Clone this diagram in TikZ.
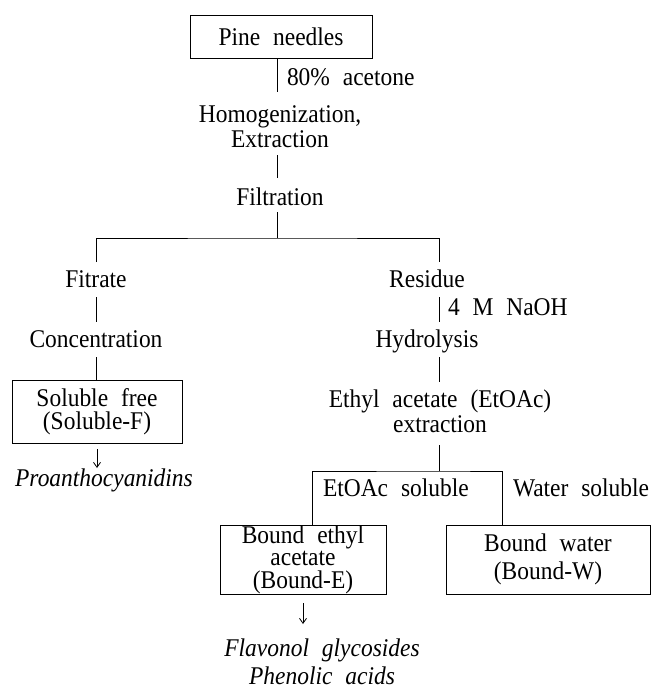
\documentclass[tikz,border=0pt]{standalone}
\usepackage{fontspec}
\setmainfont{Liberation Serif}[WordSpace=2.2,FakeStretch=0.92]
\usetikzlibrary{arrows.meta}
\begin{document}
\begin{tikzpicture}[x=1pt,y=-1pt,
  every node/.style={font=\fontsize{25.5}{24}\selectfont, inner sep=0pt, outer sep=0pt},
  txt/.style={text height=17pt,text depth=5pt,anchor=base},
  itx/.style={txt,font=\fontsize{25.5}{24}\selectfont\itshape},
  box/.style={draw,line width=0.8pt,align=center},
  ln/.style={line width=0.8pt},
  dn/.style={line width=0.8pt,-{Straight Barb[length=5pt,width=7pt]}}
]
\useasboundingbox (0,0) rectangle (651,689);
% top
\node[box,minimum width=182pt,minimum height=43pt] (pine) at (281,36.5) {Pine needles};
\coordinate (j1) at (277,238);
\coordinate (jl) at (96,238);
\coordinate (jr) at (439,238);
\node[txt,anchor=base west] (acet) at (287,85) {80\% acetone};
\node[txt] (homA) at (280,122) {Homogenization,};
\node[txt] (homB) at (280,147.5) {Extraction};
\node[txt] (filt) at (280,205) {Filtration};
% left branch
\node[txt] (fit) at (96,287) {Fitrate};
\node[txt] (conc) at (96,347) {Concentration};
\node[box,minimum width=170pt,minimum height=63pt,font=\fontsize{25.5}{23.5}\selectfont] (solf) at (97,411.5) {Soluble free\\(Soluble-F)};
\node[itx] (pro) at (104,486) {Proanthocyanidins};
% right branch
\node[txt] (res) at (427,287) {Residue};
\node[txt,anchor=base west] (naoh) at (448,315) {4 M NaOH};
\node[txt] (hyd) at (427,347) {Hydrolysis};
\node[txt] (ethA) at (440,407) {Ethyl acetate (EtOAc)};
\node[txt] (ethB) at (440,432) {extraction};
\coordinate (j2) at (439,471);
\coordinate (j2l) at (312,471);
\coordinate (j2r) at (502,471);
\node[txt,anchor=base west] (etsol) at (323,496) {EtOAc soluble};
\node[txt,anchor=base west] (wsol) at (513,496) {Water soluble};
\node[box,minimum width=166pt,minimum height=69pt,font=\fontsize{25.5}{22.5}\selectfont] (bE) at (303,559.5) {Bound ethyl\\acetate\\(Bound-E)};
\node[box,minimum width=204pt,minimum height=69pt,font=\fontsize{25.5}{28}\selectfont] (bW) at (548,559.5) {Bound water\\(Bound-W)};
\node[itx] (flav) at (322,656) {Flavonol glycosides};
\node[itx] (phen) at (322,684) {Phenolic acids};
% connectors
\draw[ln,shorten >=13pt] (pine.south -| j1) -- (homA.north -| j1);
\draw[ln,shorten <=2.5pt,shorten >=10pt] (homB.south -| j1) -- (filt.north -| j1);
\draw[ln,shorten <=2pt] (filt.south -| j1) -- (j1);
\draw[ln,shorten <=8pt,shorten >=8pt] (fit.north -| jl) |- (j1) -| (res.north -| jr);
\draw[ln,shorten <=5pt,shorten >=8pt] (fit.south) -- (conc.north);
\draw[ln,shorten <=5pt] (conc.south) -- (conc.south |- solf.north);
\draw[dn,shorten <=6pt,shorten >=1pt] (solf.south) -- (solf.south |- pro.north);
\draw[ln,shorten <=5pt,shorten >=8pt] (res.south -| jr) -- (hyd.north -| jr);
\draw[ln,shorten <=5pt,shorten >=8pt] (hyd.south -| jr) -- (ethA.north -| jr);
\draw[ln,shorten <=8pt] (ethB.south -| jr) -- (j2);
\draw[ln] (bE.north -| j2l) |- (j2) -| (bW.north -| j2r);
\draw[dn,shorten <=9pt,shorten >=15pt] (bE.south) -- (bE.south |- flav.north);
\end{tikzpicture}
\end{document}
